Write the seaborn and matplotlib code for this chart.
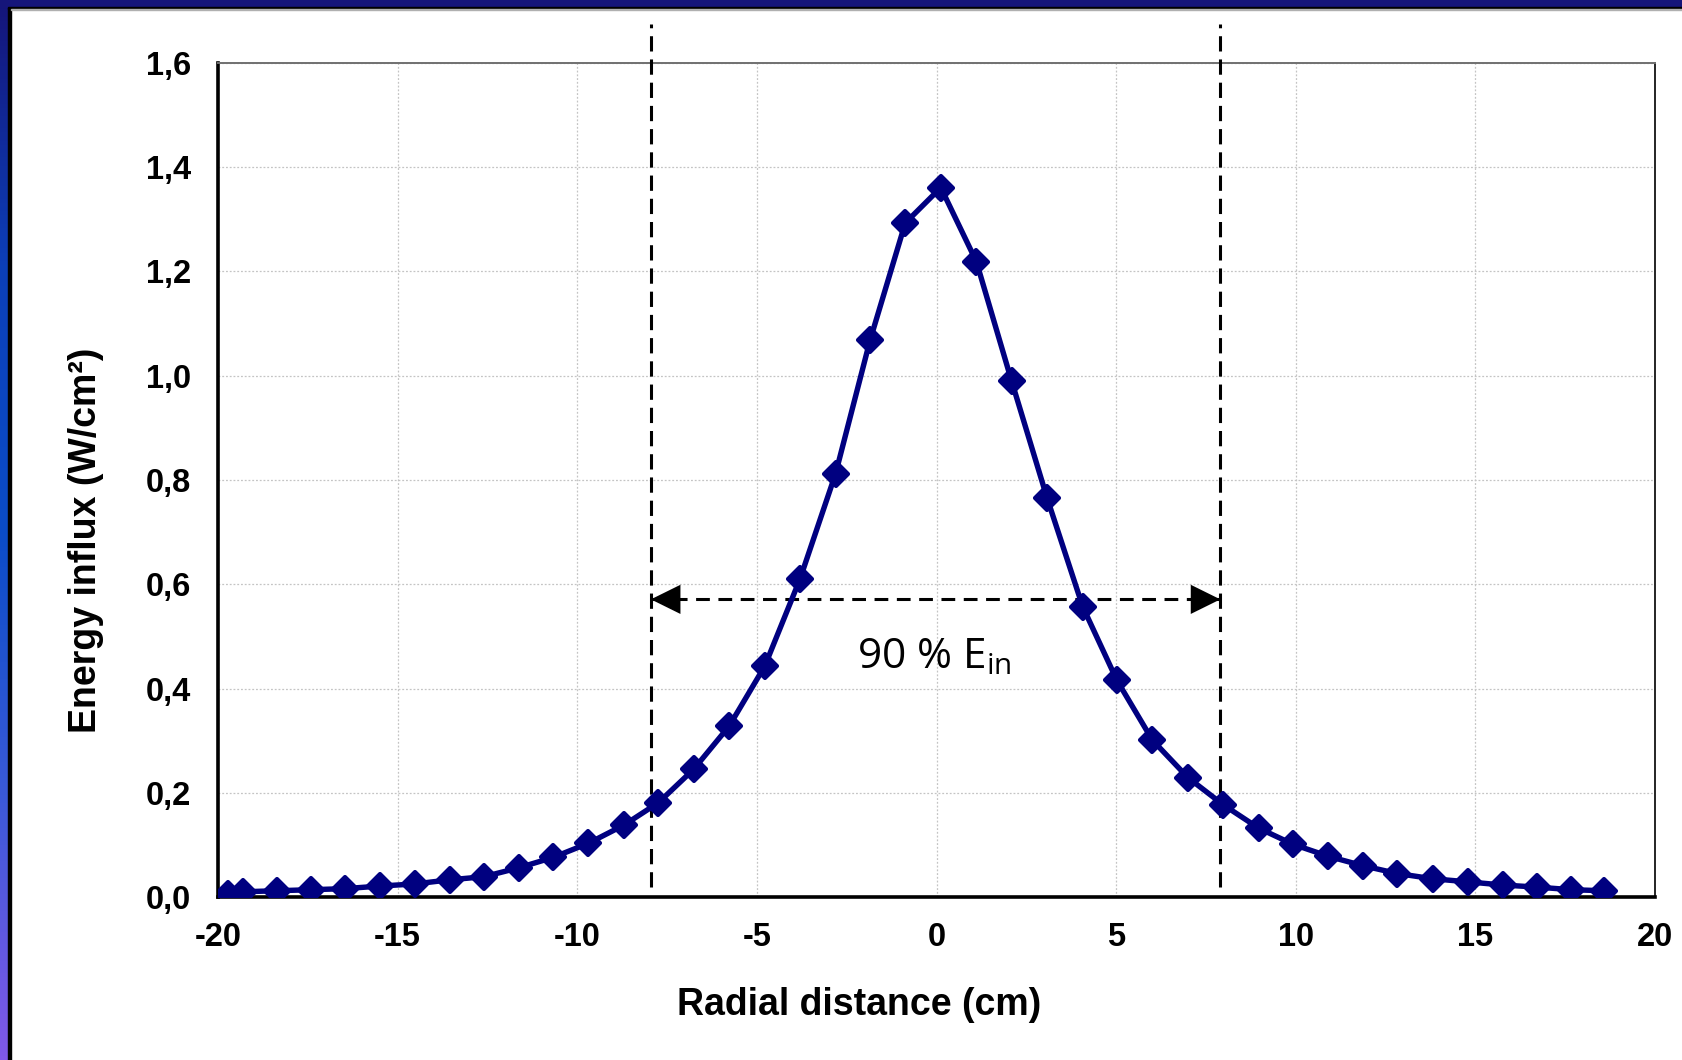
import numpy as np
import pandas as pd
import matplotlib
matplotlib.use("Agg")
import matplotlib.pyplot as plt
from matplotlib.colors import LinearSegmentedColormap
from matplotlib._enums import JoinStyle
import seaborn as sns

# ---------------- data ----------------
radial_cm = [-19.73, -19.31, -18.36, -17.40, -16.47, -15.49, -14.53, -13.54, -12.59, -11.63,
             -10.67, -9.69, -8.70, -7.74, -6.76, -5.77, -4.78, -3.80, -2.81, -1.85,
             -0.87, 0.12, 1.11, 2.09, 3.08, 4.07, 5.02, 6.01, 7.00, 7.98,
             8.97, 9.93, 10.91, 11.87, 12.83, 13.81, 14.80, 15.76, 16.71, 17.67, 18.57]
influx = [0.006, 0.010, 0.012, 0.014, 0.016, 0.021, 0.025, 0.033, 0.039, 0.056,
          0.076, 0.103, 0.138, 0.181, 0.245, 0.328, 0.443, 0.610, 0.812, 1.068,
          1.293, 1.361, 1.219, 0.990, 0.765, 0.557, 0.416, 0.301, 0.229, 0.177,
          0.132, 0.101, 0.078, 0.060, 0.045, 0.035, 0.029, 0.023, 0.019, 0.014, 0.012]
bounds_90 = [-7.95, 7.90]
arrow_level = 0.571
x_ticks = [-20, -15, -10, -5, 0, 5, 10, 15, 20]
x_ticklabels = ["-20", "-15", "-10", "-5", "0", "5", "10", "15", "20"]
y_ticks = [0.0, 0.2, 0.4, 0.6, 0.8, 1.0, 1.2, 1.4, 1.6]
y_ticklabels = ["0,0", "0,2", "0,4", "0,6", "0,8", "1,0", "1,2", "1,4", "1,6"]
x_label = "Radial distance (cm)"
y_label = "Energy influx (W/cm²)"
annotation = "90 % E$_{\\mathrm{in}}$"

df = pd.DataFrame({"r": radial_cm, "E": influx})

sns.set_theme(style="white")
plt.rcParams["font.family"] = ["Liberation Sans", "DejaVu Sans"]
plt.rcParams["mathtext.fontset"] = "custom"
plt.rcParams["mathtext.rm"] = "Open Sans"
plt.rcParams["mathtext.it"] = "Open Sans"
plt.rcParams["text.color"] = "black"
plt.rcParams["xtick.color"] = "black"
plt.rcParams["ytick.color"] = "black"
plt.rcParams["axes.labelcolor"] = "black"

W, H = 1683, 1060
fig = plt.figure(figsize=(W / 100, H / 100), dpi=100, facecolor="white")

# ---------- decorative slide frame ----------
bg = fig.add_axes([0, 0, 1, 1], zorder=-5)
bg.set_xlim(0, W)
bg.set_ylim(H, 0)
bg.axis("off")
cmap = LinearSegmentedColormap.from_list(
    "frame", ["#15157a", "#0c3fb8", "#0a4cc8", "#3a5ad8", "#8058e8"])
grad = np.linspace(0, 1, 256).reshape(-1, 1)
bg.imshow(grad, cmap=cmap, extent=[0, 8.5, H, 0], aspect="auto", zorder=1)
bg.add_patch(plt.Rectangle((8.5, 0), 2.5, H, color="black", zorder=2))
bg.add_patch(plt.Rectangle((0, 0), W, 6.5, color="#15157a", zorder=3))
bg.add_patch(plt.Rectangle((8.5, 6.5), W, 2.3, color="black", zorder=3))
bg.add_patch(plt.Rectangle((11, 8.8), W, 1.0, color="#b0b0b0", zorder=3))

# ---------- main axes ----------
ax = fig.add_axes([218 / W, 163 / H, (1655 - 218) / W, (897 - 63) / H])
ax.set_facecolor("white")

sns.lineplot(data=df, x="r", y="E", ax=ax, color="#000080", linewidth=3.9,
             marker="D", markersize=12.5, markeredgecolor="#000080",
             markeredgewidth=3.0, markerfacecolor="#000080", zorder=5,
             solid_joinstyle="round")
for ln in ax.lines:
    ln.set_markeredgewidth(3.0)
    ln._marker._joinstyle = JoinStyle.round

ax.set_xlim(-20, 20)
ax.set_ylim(0, 1.6)
ax.set_xticks(x_ticks)
ax.set_xticklabels(x_ticklabels)
ax.set_yticks(y_ticks)
ax.set_yticklabels(y_ticklabels)
for lab in ax.get_xticklabels() + ax.get_yticklabels():
    lab.set_fontweight("bold")
    lab.set_fontsize(23.5)
    lab.set_color("black")
ax.tick_params(axis="x", direction="out", length=7, width=2.2, color="black",
               labelcolor="black", pad=11)
ax.tick_params(axis="y", direction="out", length=7, width=2.2, color="black",
               labelcolor="black", pad=12.5)

ax.grid(True, color="#c4c4c4", linestyle=(0, (1.5, 1.5)), linewidth=0.9)
ax.set_axisbelow(True)

for side in ["left", "bottom"]:
    ax.spines[side].set_color("black")
    ax.spines[side].set_linewidth(2.6)
ax.spines["top"].set_color("#707070")
ax.spines["top"].set_linewidth(1.4)
ax.spines["right"].set_color("black")
ax.spines["right"].set_linewidth(1.2)

ax.set_xlabel(x_label, fontsize=27, fontweight="bold", color="black")
ax.set_ylabel(y_label, fontsize=27, fontweight="bold", color="black")
ax.xaxis.label.set_va("center")
ax.yaxis.label.set_va("center")
ax.xaxis.set_label_coords((859 - 218) / (1655 - 218), (897 - 1005) / (897 - 63))
ax.yaxis.set_label_coords((86 - 218) / (1655 - 218), (897 - 540) / (897 - 63))

# ---------- 90 % boundaries ----------
for xb in bounds_90:
    ax.plot([xb, xb], [0.019, 1.675], color="black", linewidth=2.2,
            linestyle=(0, (5, 2.6)), clip_on=False, zorder=4)

ax.plot(bounds_90, [arrow_level, arrow_level], color="black", linewidth=2.2,
        linestyle=(0, (4.5, 2.8)), zorder=4)
for xb, d in [(bounds_90[0], 1.0), (bounds_90[1], -1.0)]:
    ax.annotate("", xy=(xb, arrow_level), xytext=(xb + d, arrow_level),
                arrowprops=dict(arrowstyle="-|>,head_length=0.85,head_width=0.42",
                                color="black", lw=0.01, shrinkA=0, shrinkB=0,
                                mutation_scale=25), zorder=6)

ax.text(-0.05, 0.44, annotation, ha="center", va="baseline", fontsize=30.5,
        family=["Open Sans", "DejaVu Sans"], color="black", zorder=6)

fig.savefig("out.png", dpi=100, facecolor="white")
